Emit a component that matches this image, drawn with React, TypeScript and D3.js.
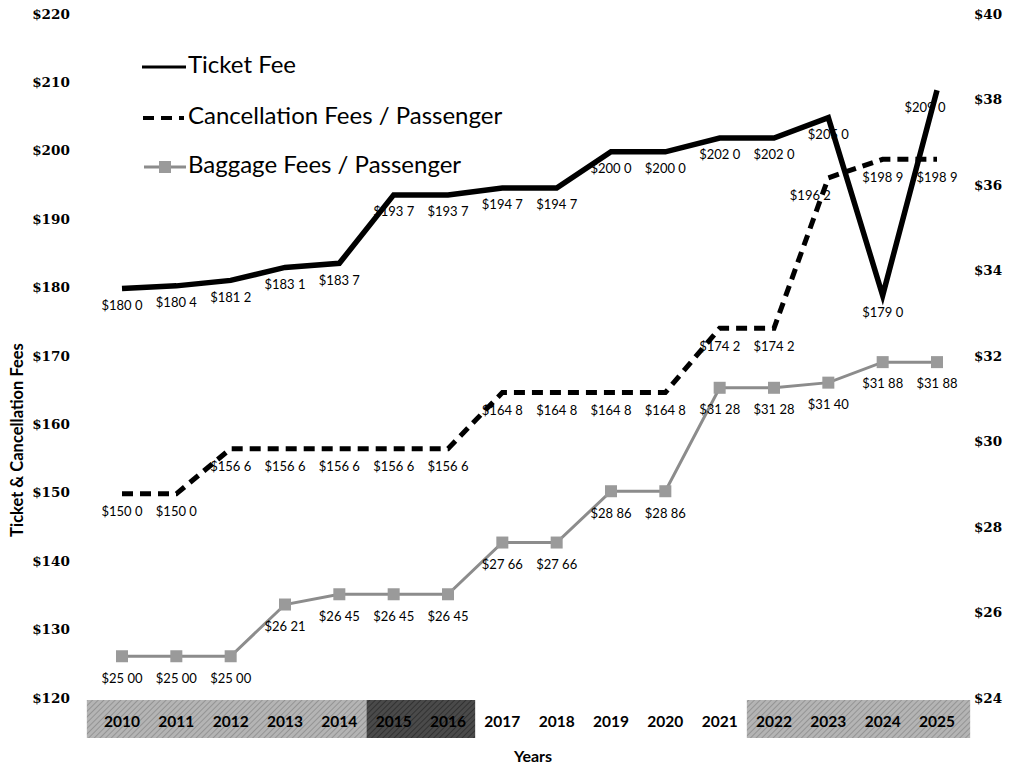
import React from "react";
import * as d3 from "d3";

const years = [2010, 2011, 2012, 2013, 2014, 2015, 2016, 2017, 2018, 2019, 2020, 2021, 2022, 2023, 2024, 2025];
const ticketFee = [180.0, 180.4, 181.2, 183.1, 183.7, 193.7, 193.7, 194.7, 194.7, 200.0, 200.0, 202.0, 202.0, 205.0, 179.0, 209.0];
const cancellationFee = [150.0, 150.0, 156.6, 156.6, 156.6, 156.6, 156.6, 164.8, 164.8, 164.8, 164.8, 174.2, 174.2, 196.2, 198.9, 198.9];
const baggageFee = [25.0, 25.0, 25.0, 26.21, 26.45, 26.45, 26.45, 27.66, 27.66, 28.86, 28.86, 31.28, 31.28, 31.4, 31.88, 31.88];
const leftTicks = [120, 130, 140, 150, 160, 170, 180, 190, 200, 210, 220];
const rightTicks = [24, 26, 28, 30, 32, 34, 36, 38, 40];
const yearBands = [
  { from: 2010, to: 2014, shade: "light" },
  { from: 2015, to: 2016, shade: "dark" },
  { from: 2022, to: 2025, shade: "light" },
];
const legendItems = ["Ticket Fee", "Cancellation Fees / Passenger", "Baggage Fees / Passenger"];

const W = 1015;
const H = 769;

export default function App() {
  const x = d3.scaleLinear().domain([2010, 2025]).range([122, 937]);
  const yL = d3.scaleLinear().domain([120, 220]).range([699, 15]);
  const yR = d3.scaleLinear().domain([24, 40]).range([699, 15]);
  const step = x(2011) - x(2010);

  const lineL = d3
    .line<number>()
    .x((_, i) => x(years[i]))
    .y((d) => yL(d));
  const lineR = d3
    .line<number>()
    .x((_, i) => x(years[i]))
    .y((d) => yR(d));

  const fmt1 = (v: number) => d3.format("$.1f")(v).replace(".", " ");
  const fmt2 = (v: number) => d3.format("$.2f")(v).replace(".", " ");

  const labelFont = "Lato, 'Liberation Sans', sans-serif";
  const tickFont = "'DejaVu Serif', serif";

  return (
    <svg width={W} height={H} style={{ position: "absolute", left: 0, top: 0, background: "#fff" }}>
      <defs>
        <pattern id="hatchLight" width="4" height="4" patternUnits="userSpaceOnUse" patternTransform="rotate(45)">
          <rect width="4" height="4" fill="#b4b4b4" />
          <line x1="0" y1="0" x2="0" y2="4" stroke="#8a8a8a" strokeWidth="1.5" />
        </pattern>
        <pattern id="hatchDark" width="4" height="4" patternUnits="userSpaceOnUse" patternTransform="rotate(45)">
          <rect width="4" height="4" fill="#4a4a4a" />
          <line x1="0" y1="0" x2="0" y2="4" stroke="#2a2a2a" strokeWidth="1.5" />
        </pattern>
      </defs>

      {yearBands.map((b, i) => (
        <rect
          key={i}
          x={x(b.from) - step / 2 - (b.from === 2010 ? 8 : 0)}
          y={700}
          width={x(b.to) - x(b.from) + step + (b.from === 2010 ? 8 : 0) + (b.to === 2025 ? 6 : 0)}
          height={38}
          fill={b.shade === "dark" ? "url(#hatchDark)" : "url(#hatchLight)"}
        />
      ))}

      {years.map((yr) => (
        <text
          key={yr}
          x={x(yr)}
          y={723}
          textAnchor="middle"
          dominantBaseline="middle"
          fontFamily={labelFont}
          fontWeight="bold"
          fontSize={15.5}
          fill="#000"
        >
          {yr}
        </text>
      ))}
      <text x={533} y={758} textAnchor="middle" dominantBaseline="middle" fontFamily={labelFont} fontWeight="bold" fontSize={16}>
        Years
      </text>

      {leftTicks.map((t) => (
        <text key={t} x={51} y={yL(t)} textAnchor="middle" dominantBaseline="middle" fontFamily={tickFont} fontWeight="bold" fontSize={13.5}>
          {"$" + t}
        </text>
      ))}
      {rightTicks.map((t) => (
        <text key={t} x={988} y={yR(t)} textAnchor="middle" dominantBaseline="middle" fontFamily={tickFont} fontWeight="bold" fontSize={13.5}>
          {"$" + t}
        </text>
      ))}
      <text
        transform={`translate(19,440) rotate(-90)`}
        textAnchor="middle"
        dominantBaseline="middle"
        fontFamily={labelFont}
        fontWeight="bold"
        fontSize={16.5}
      >
        Ticket &amp; Cancellation Fees
      </text>

      <path d={lineR(baggageFee) || ""} fill="none" stroke="#8c8c8c" strokeWidth={3} />
      {baggageFee.map((v, i) => (
        <rect key={i} x={x(years[i]) - 6} y={yR(v) - 6} width={12} height={12} fill="#9a9a9a" />
      ))}

      <path d={lineL(cancellationFee) || ""} fill="none" stroke="#000" strokeWidth={5} strokeDasharray="11 7" />

      <path d={lineL(ticketFee) || ""} fill="none" stroke="#000" strokeWidth={5.5} strokeLinejoin="miter" />

      {ticketFee.map((v, i) => (
        <text key={"t" + i} x={x(years[i]) + (i === 15 ? -12 : 0)} y={yL(v) + 18} textAnchor="middle" dominantBaseline="middle" fontFamily={labelFont} fontSize={13}>
          {fmt1(v)}
        </text>
      ))}
      {cancellationFee.map((v, i) => (
        <text key={"c" + i} x={x(years[i]) + (i === 13 ? -18 : 0)} y={yL(v) + 19} textAnchor="middle" dominantBaseline="middle" fontFamily={labelFont} fontSize={13}>
          {fmt1(v)}
        </text>
      ))}
      {baggageFee.map((v, i) => (
        <text key={"b" + i} x={x(years[i])} y={yR(v) + 23} textAnchor="middle" dominantBaseline="middle" fontFamily={labelFont} fontSize={13}>
          {fmt2(v)}
        </text>
      ))}

      {legendItems.map((name, i) => {
        const ly = [67, 118, 167][i];
        return (
          <g key={name}>
            {i === 0 && <line x1={142} x2={186} y1={ly} y2={ly} stroke="#000" strokeWidth={3} />}
            {i === 1 && <line x1={143} x2={184} y1={ly} y2={ly} stroke="#000" strokeWidth={4} strokeDasharray="11 7" />}
            {i === 2 && (
              <g>
                <line x1={144} x2={186} y1={ly} y2={ly} stroke="#8c8c8c" strokeWidth={3} />
                <rect x={159} y={ly - 6} width={12} height={12} fill="#9a9a9a" />
              </g>
            )}
            <text x={188} y={ly} dominantBaseline="middle" fontFamily={labelFont} fontSize={24}>
              {name}
            </text>
          </g>
        );
      })}
    </svg>
  );
}
